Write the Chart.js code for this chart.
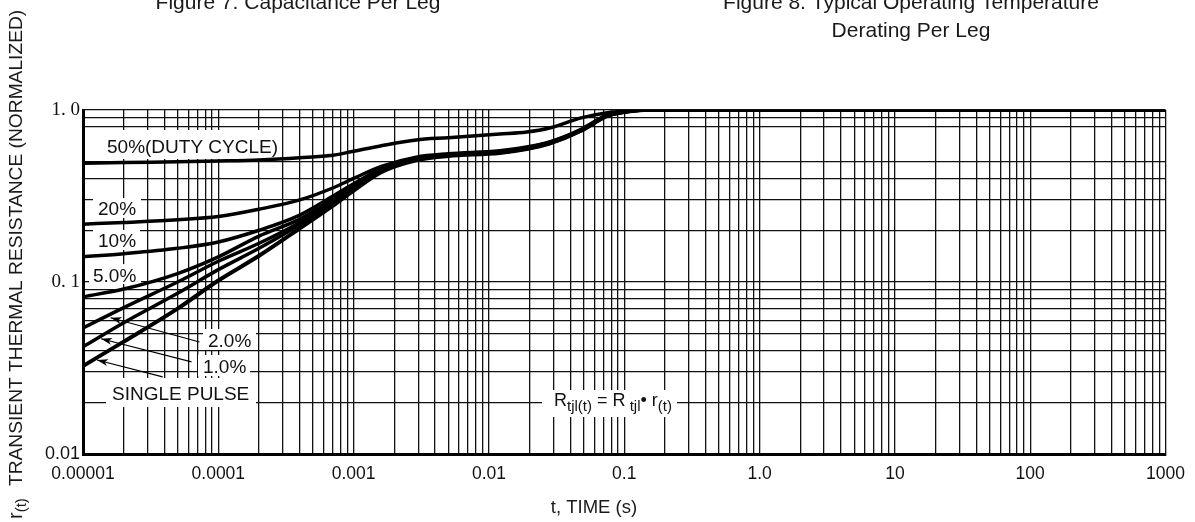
<!DOCTYPE html>
<html>
<head>
<meta charset="utf-8">
<script src="https://cdn.jsdelivr.net/npm/chart.js@4.4.1/dist/chart.umd.min.js"></script>
<style>
  html, body { margin: 0; padding: 0; background: #fff; }
  canvas { display: block; }
</style>
</head>
<body>
<canvas id="chart" width="1195" height="522"></canvas>
<script>
// t, TIME (s) sample points shared by all curves
const timeS = [1e-5, 2e-5, 5e-5, 1e-4, 2e-4, 4e-4, 7e-4, 1e-3, 1.6e-3, 2.9e-3, 5e-3, 1.2e-2, 1.9e-2, 2.8e-2, 4.8e-2, 7.5e-2, 0.1, 0.14, 1000];

// r(t), one array per duty cycle
const duty50 = [0.49, 0.495, 0.50, 0.505, 0.512, 0.527, 0.545, 0.576, 0.62, 0.67, 0.69, 0.725, 0.745, 0.786, 0.90, 0.965, 0.985, 1, 1];
const duty20 = [0.217, 0.222, 0.230, 0.240, 0.265, 0.300, 0.352, 0.400, 0.470, 0.532, 0.556, 0.579, 0.609, 0.653, 0.773, 0.936, 0.978, 1, 1];
const duty10 = [0.140, 0.146, 0.157, 0.171, 0.200, 0.245, 0.315, 0.372, 0.457, 0.524, 0.551, 0.574, 0.604, 0.648, 0.768, 0.933, 0.976, 1, 1];
const duty5 = [0.082, 0.091, 0.112, 0.140, 0.185, 0.232, 0.302, 0.362, 0.450, 0.520, 0.548, 0.571, 0.601, 0.645, 0.765, 0.930, 0.975, 1, 1];
const duty2 = [0.054, 0.071, 0.100, 0.132, 0.168, 0.222, 0.292, 0.354, 0.445, 0.517, 0.545, 0.568, 0.598, 0.642, 0.762, 0.928, 0.974, 1, 1];
const duty1 = [0.042, 0.058, 0.086, 0.118, 0.157, 0.215, 0.285, 0.347, 0.440, 0.514, 0.543, 0.566, 0.596, 0.640, 0.760, 0.926, 0.973, 1, 1];
const singlePulse = [0.0325, 0.045, 0.070, 0.102, 0.142, 0.205, 0.277, 0.340, 0.435, 0.510, 0.540, 0.563, 0.593, 0.637, 0.757, 0.924, 0.972, 1, 1];

const seriesNames = ['50%(DUTY CYCLE)', '20%', '10%', '5.0%', '2.0%', '1.0%', 'SINGLE PULSE'];
const seriesValues = [duty50, duty20, duty10, duty5, duty2, duty1, singlePulse];

// axis ticks
const xTickValues = [1e-5, 1e-4, 1e-3, 1e-2, 0.1, 1, 10, 100, 1000];
const xTickLabels = ['0.00001', '0.0001', '0.001', '0.01', '0.1', '1.0', '10', '100', '1000'];
const yTickValues = [0.01, 0.1, 1];
const yTickLabels = ['0.01', '0. 1', '1. 0'];
const yGridValues = [0.01, 0.02, 0.03, 0.04, 0.05, 0.06, 0.07, 0.08, 0.09, 0.1, 0.2, 0.3, 0.4, 0.5, 0.8, 0.9, 1];

// arrows for the three lowest curves: [tail t, tail r, tip t, tip r]
const arrowPoints = [
    [7.26e-5, 0.0448, 1.6e-5, 0.062],
    [6.34e-5, 0.0343, 1.36e-5, 0.0468],
    [3.88e-5, 0.0281, 1.27e-5, 0.0352]
];

const xGridValues = [];
for (let e = -5; e < 3; e++) {
    for (let m = 1; m < 10; m++) xGridValues.push(m * Math.pow(10, e));
}
xGridValues.push(1000);

const sans = '"Liberation Sans", Arial, sans-serif';

const sameValue = (a, b) => Math.abs(a / b - 1) < 1e-9;

const datasets = seriesValues.map((vals, i) => ({
    label: seriesNames[i],
    data: vals.map((v, j) => ({ x: timeS[j], y: v })),
    borderColor: '#000',
    borderWidth: i === 6 ? 4 : 3.5,
    pointRadius: 0,
    fill: false,
    cubicInterpolationMode: 'monotone'
}));

// label placement (pixels): text x, baseline y, white box
const labelSpots = [
    { x: 107, y: 153, box: [90, 130, 174, 29] },
    { x: 98, y: 215, box: [93, 198, 48, 20] },
    { x: 98, y: 247, box: [93, 230, 47, 20] },
    { x: 93, y: 282, box: [89, 264, 52, 20] },
    { x: 208, y: 347, box: [203, 329, 53, 21] },
    { x: 203, y: 373, box: [198, 355, 52, 21] },
    { x: 112, y: 400, box: [106, 378, 150, 29] }
];

function drawParts(ctx, parts, x, y) {
    let cx = x;
    parts.forEach(p => {
        ctx.font = p.size + 'px ' + sans;
        ctx.fillText(p.text, cx, y + (p.dy || 0));
        cx += ctx.measureText(p.text).width;
    });
}

const notesPlugin = {
    id: 'notes',
    beforeDatasetsDraw(chart) {
        const ctx = chart.ctx;
        const xs = chart.scales.x;
        const ys = chart.scales.y;
        ctx.save();
        ctx.fillStyle = '#fff';
        labelSpots.forEach(s => ctx.fillRect(s.box[0], s.box[1], s.box[2], s.box[3]));
        ctx.fillRect(542, 390, 135, 27);

        ctx.fillStyle = '#111';
        ctx.textBaseline = 'alphabetic';
        ctx.textAlign = 'left';
        ctx.font = '19px ' + sans;
        labelSpots.forEach((s, i) => ctx.fillText(seriesNames[i], s.x, s.y));

        drawParts(ctx, [
            { text: 'R', size: 18 },
            { text: 'tjl(t)', size: 15, dy: 5 },
            { text: ' = R', size: 18 },
            { text: ' tjl', size: 15, dy: 5 },
            { text: '\u2022 r', size: 18 },
            { text: '(t)', size: 15, dy: 5 }
        ], 554, 406);

        // arrows
        ctx.strokeStyle = '#000';
        ctx.lineWidth = 1.2;
        arrowPoints.forEach(a => {
            const x0 = xs.getPixelForValue(a[0]), y0 = ys.getPixelForValue(a[1]);
            const x1 = xs.getPixelForValue(a[2]), y1 = ys.getPixelForValue(a[3]);
            const ang = Math.atan2(y1 - y0, x1 - x0);
            ctx.beginPath();
            ctx.moveTo(x0, y0);
            ctx.lineTo(x1, y1);
            ctx.stroke();
            ctx.beginPath();
            ctx.moveTo(x1, y1);
            ctx.lineTo(x1 - 11 * Math.cos(ang) + 3.5 * Math.sin(ang), y1 - 11 * Math.sin(ang) - 3.5 * Math.cos(ang));
            ctx.lineTo(x1 - 8 * Math.cos(ang), y1 - 8 * Math.sin(ang));
            ctx.lineTo(x1 - 11 * Math.cos(ang) - 3.5 * Math.sin(ang), y1 - 11 * Math.sin(ang) + 3.5 * Math.cos(ang));
            ctx.closePath();
            ctx.fillStyle = '#000';
            ctx.fill();
        });
        ctx.restore();
    },
    afterDraw(chart) {
        const ctx = chart.ctx;
        ctx.save();
        ctx.fillStyle = '#1a1a1a';
        ctx.textBaseline = 'alphabetic';
        ctx.textAlign = 'center';
        ctx.font = '21px ' + sans;
        ctx.fillText('Figure 7. Capacitance Per Leg', 298, 9);
        ctx.fillText('Figure 8. Typical Operating Temperature', 911, 9);
        ctx.fillText('Derating Per Leg', 911, 37);

        ctx.font = '18.5px ' + sans;
        ctx.fillText('t, TIME (s)', 594, 513);

        // rotated y title with subscript
        ctx.textAlign = 'left';
        ctx.translate(22, 519);
        ctx.rotate(-Math.PI / 2);
        drawParts(ctx, [
            { text: 'r', size: 20 },
            { text: '(t)', size: 15, dy: 4 }
        ], 0, 0);
        ctx.font = '19.2px ' + sans;
        ctx.fillText('TRANSIENT THERMAL RESISTANCE (NORMALIZED)', 33, 0);
        ctx.restore();
    }
};

new Chart(document.getElementById('chart'), {
    type: 'line',
    data: { datasets },
    plugins: [notesPlugin],
    options: {
        responsive: false,
        animation: false,
        layout: { padding: { top: 110, right: 25, left: 0, bottom: 0 } },
        plugins: {
            legend: { display: false },
            tooltip: { enabled: false }
        },
        scales: {
            x: {
                type: 'logarithmic',
                min: 1e-5,
                max: 1000,
                afterBuildTicks: (scale) => { scale.ticks = xGridValues.map(v => ({ value: v })); },
                afterFit: (scale) => { scale.height = 68; },
                grid: { color: '#111', lineWidth: 1.3, drawTicks: false },
                border: { display: true, color: '#000', width: 3 },
                ticks: {
                    autoSkip: false,
                    maxRotation: 0,
                    minRotation: 0,
                    padding: 10,
                    color: '#111',
                    font: { family: sans, size: 17.5 },
                    callback: (value) => {
                        const i = xTickValues.findIndex(v => sameValue(v, value));
                        return i >= 0 ? xTickLabels[i] : '';
                    }
                }
            },
            y: {
                type: 'logarithmic',
                min: 0.01,
                max: 1,
                afterBuildTicks: (scale) => { scale.ticks = yGridValues.map(v => ({ value: v })); },
                afterFit: (scale) => { scale.width = 83; },
                grid: { color: '#111', lineWidth: 1.3, drawTicks: false },
                border: { display: true, color: '#000', width: 3 },
                ticks: {
                    autoSkip: false,
                    padding: 3,
                    color: '#111',
                    font: (ctx) => (ctx.tick && ctx.tick.value > 0.05)
                        ? { family: '"Liberation Serif", "DejaVu Serif", serif', size: 19 }
                        : { family: sans, size: 18 },
                    callback: (value) => {
                        const i = yTickValues.findIndex(v => sameValue(v, value));
                        return i >= 0 ? yTickLabels[i] : '';
                    }
                }
            }
        }
    }
});
</script>
</body>
</html>
